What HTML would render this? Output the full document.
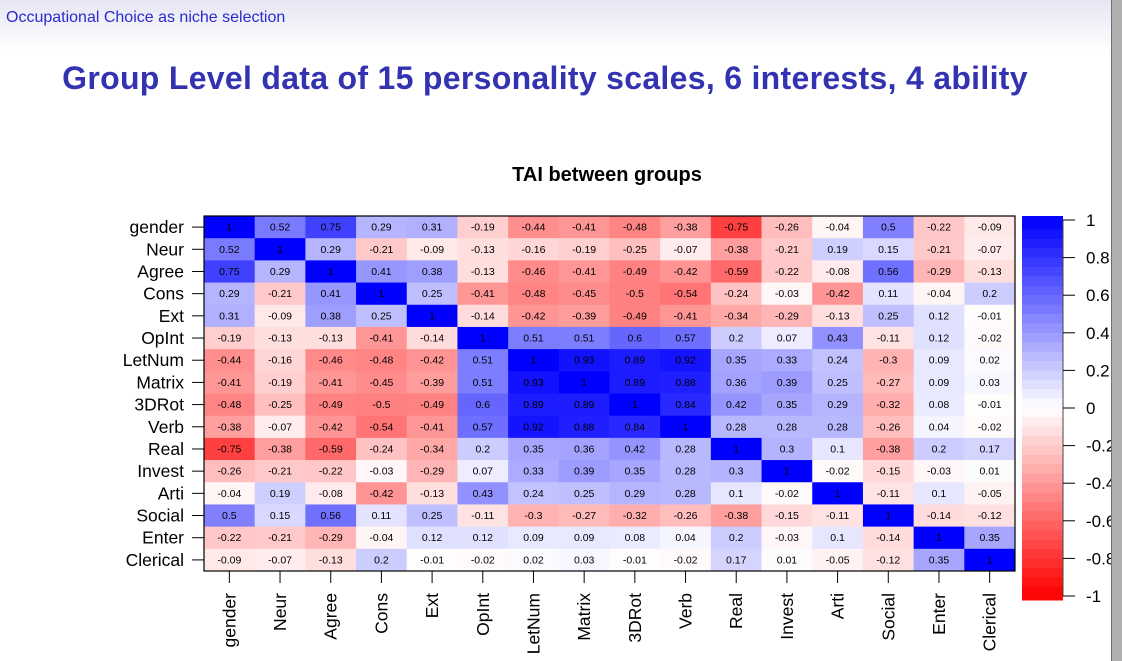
<!DOCTYPE html>
<html><head><meta charset="utf-8"><style>
body{margin:0;width:1122px;height:661px;overflow:hidden;background:#fff;font-family:"Liberation Sans",sans-serif;position:relative}
#hdr{position:absolute;left:0;top:0;width:1111px;height:52px;background:linear-gradient(#e6e6f3,#fff)}
#sub{position:absolute;left:6px;top:9px;font-size:16px;color:#2a2ad0}
#title{position:absolute;left:0;width:1090px;top:60px;text-align:center;font-size:32px;font-weight:bold;color:#3333b2;font-family:"Liberation Sans",sans-serif;white-space:nowrap;letter-spacing:0.3px}
#sb{position:absolute;left:1111px;top:0;width:11px;height:661px;background:#b0b0b0;border-left:1px solid #707070}
svg{position:absolute;left:0;top:0}
</style></head><body>
<div id="hdr"></div>
<div id="sub">Occupational Choice as niche selection</div>
<div id="title">Group Level data of 15 personality scales, 6 interests, 4 ability</div>
<svg id="chart" width="1111" height="661"></svg>
<div id="sb"></div>
<script>
const labels=["gender","Neur","Agree","Cons","Ext","OpInt","LetNum","Matrix","3DRot","Verb","Real","Invest","Arti","Social","Enter","Clerical"];
const r0=[1,0.52,0.75,0.29,0.31,-0.19,-0.44,-0.41,-0.48,-0.38,-0.75,-0.26,-0.04,0.5,-0.22,-0.09];
const r1=[0.52,1,0.29,-0.21,-0.09,-0.13,-0.16,-0.19,-0.25,-0.07,-0.38,-0.21,0.19,0.15,-0.21,-0.07];
const r2=[0.75,0.29,1,0.41,0.38,-0.13,-0.46,-0.41,-0.49,-0.42,-0.59,-0.22,-0.08,0.56,-0.29,-0.13];
const r3=[0.29,-0.21,0.41,1,0.25,-0.41,-0.48,-0.45,-0.5,-0.54,-0.24,-0.03,-0.42,0.11,-0.04,0.2];
const r4=[0.31,-0.09,0.38,0.25,1,-0.14,-0.42,-0.39,-0.49,-0.41,-0.34,-0.29,-0.13,0.25,0.12,-0.01];
const r5=[-0.19,-0.13,-0.13,-0.41,-0.14,1,0.51,0.51,0.6,0.57,0.2,0.07,0.43,-0.11,0.12,-0.02];
const r6=[-0.44,-0.16,-0.46,-0.48,-0.42,0.51,1,0.93,0.89,0.92,0.35,0.33,0.24,-0.3,0.09,0.02];
const r7=[-0.41,-0.19,-0.41,-0.45,-0.39,0.51,0.93,1,0.89,0.88,0.36,0.39,0.25,-0.27,0.09,0.03];
const r8=[-0.48,-0.25,-0.49,-0.5,-0.49,0.6,0.89,0.89,1,0.84,0.42,0.35,0.29,-0.32,0.08,-0.01];
const r9=[-0.38,-0.07,-0.42,-0.54,-0.41,0.57,0.92,0.88,0.84,1,0.28,0.28,0.28,-0.26,0.04,-0.02];
const r10=[-0.75,-0.38,-0.59,-0.24,-0.34,0.2,0.35,0.36,0.42,0.28,1,0.3,0.1,-0.38,0.2,0.17];
const r11=[-0.26,-0.21,-0.22,-0.03,-0.29,0.07,0.33,0.39,0.35,0.28,0.3,1,-0.02,-0.15,-0.03,0.01];
const r12=[-0.04,0.19,-0.08,-0.42,-0.13,0.43,0.24,0.25,0.29,0.28,0.1,-0.02,1,-0.11,0.1,-0.05];
const r13=[0.5,0.15,0.56,0.11,0.25,-0.11,-0.3,-0.27,-0.32,-0.26,-0.38,-0.15,-0.11,1,-0.14,-0.12];
const r14=[-0.22,-0.21,-0.29,-0.04,0.12,0.12,0.09,0.09,0.08,0.04,0.2,-0.03,0.1,-0.14,1,0.35];
const r15=[-0.09,-0.07,-0.13,0.2,-0.01,-0.02,0.02,0.03,-0.01,-0.02,0.17,0.01,-0.05,-0.12,0.35,1];
const matrix=[r0,r1,r2,r3,r4,r5,r6,r7,r8,r9,r10,r11,r12,r13,r14,r15];
const legendTicks=[1,0.8,0.6,0.4,0.2,0,-0.2,-0.4,-0.6,-0.8,-1];

const NS="http://www.w3.org/2000/svg",svg=document.getElementById('chart');
function mk(t,a,p){const e=document.createElementNS(NS,t);for(const k in a)e.setAttribute(k,a[k]);(p||svg).appendChild(e);return e;}
function col(v){const f=Math.min(1,Math.abs(v));const c=Math.round(255*(1-f));return v>=0?`rgb(${c},${c},255)`:`rgb(255,${c},${c})`;}
const L=204,T=216,R=1015,B=571,n=labels.length,cw=(R-L)/n,ch=(B-T)/n;
const xs=i=>L+i*cw, ys=j=>T+j*ch;
const ct=mk('text',{x:607,y:181,'text-anchor':'middle','font-size':20,'font-weight':'bold','font-family':'Liberation Sans'});ct.textContent='TAI between groups';


matrix.forEach((row,j)=>row.forEach((v,i)=>{
 const r=mk('rect',{x:xs(i),y:ys(j),width:cw+0.5,height:ch+0.5,fill:col(v)});
 
 
 const t=mk('text',{x:xs(i)+cw/2,y:ys(j)+ch/2+3.5,'text-anchor':'middle','font-size':10.5,'font-family':'Liberation Sans'});t.textContent=String(v);
 
 
}));
mk('rect',{x:L,y:T,width:R-L,height:B-T,fill:'none',stroke:'#000','stroke-width':1.2});
labels.forEach((lab,j)=>{
 const y=ys(j)+ch/2;
 mk('line',{x1:L-12,x2:L,y1:y,y2:y,stroke:'#000'});
 const t=mk('text',{x:L-20,y:y+6,'text-anchor':'end','font-size':17.5,'font-family':'Liberation Sans'});t.textContent=lab;
 
 
 const x=xs(j)+cw/2;
 mk('line',{x1:x,x2:x,y1:B,y2:B+12,stroke:'#000'});
 const tx=mk('text',{x:x+6,y:B+22,'text-anchor':'end','font-size':17.5,'font-family':'Liberation Sans',transform:`rotate(-90 ${x+6} ${B+22})`});tx.textContent=lab;
 
 
});
const CL=1022,CR=1063,CT=216,CB=600,steps=40,cy=v=>408-(v)*188;
for(let k=0;k<steps;k++){
 const v1=1-k*2/steps,v2=v1-2/steps,vm=(v1+v2)/2;
 const y1=k==0?CT:cy(v1),y2=k==steps-1?CB:cy(v2);
 const r=mk('rect',{x:CL,y:y1,width:CR-CL,height:y2-y1+0.5,fill:col(vm)});
 
 
}
mk('line',{x1:CR,x2:CR,y1:cy(1),y2:cy(-1),stroke:'#444'});
legendTicks.forEach(v=>{
 const y=cy(v);
 mk('line',{x1:CR,x2:CR+12,y1:y,y2:y,stroke:'#000'});
 const t=mk('text',{x:1086,y:y+6,'font-size':17,'font-family':'Liberation Sans'});t.textContent=String(v);
 
 
});
</script>
</body></html>
